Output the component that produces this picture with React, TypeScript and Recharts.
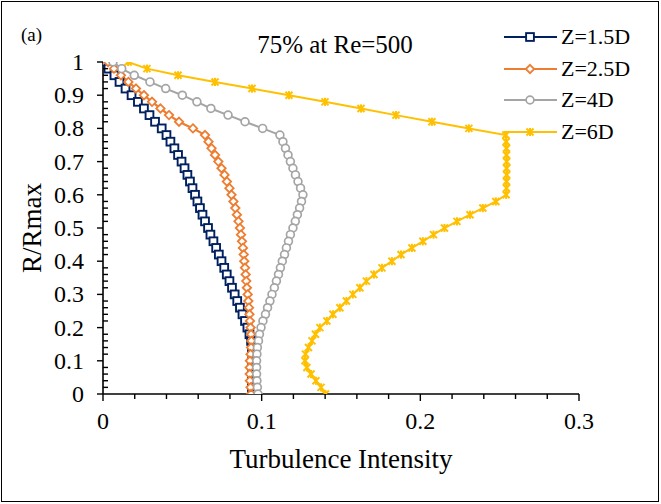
import React from "react";
import { LineChart, Line, XAxis, YAxis, Legend } from "recharts";

const FONT = "Liberation Serif, DejaVu Serif, serif";

// radial position, shared by every profile
const R_VALUES = [
  1, 0.98, 0.96, 0.94, 0.92, 0.9, 0.88, 0.86, 0.84, 0.82, 0.8, 0.78, 0.76, 0.74, 0.72, 0.7, 0.68,
  0.66, 0.64, 0.62, 0.6, 0.58, 0.56, 0.54, 0.52, 0.5, 0.48, 0.46, 0.44, 0.42, 0.4, 0.38, 0.36,
  0.34, 0.32, 0.3, 0.28, 0.26, 0.24, 0.22, 0.2, 0.18, 0.16, 0.14, 0.12, 0.1, 0.08, 0.06, 0.04,
  0.02, 0,
];

// turbulence intensity at each R, per axial station
const TI_Z15 = [
  0.002, 0.0034, 0.0072, 0.0104, 0.0142, 0.018, 0.022, 0.0258, 0.0293, 0.0328, 0.037, 0.04,
  0.0425, 0.045, 0.0473, 0.0495, 0.0514, 0.0532, 0.0548, 0.0564, 0.058, 0.0595, 0.0611, 0.0627,
  0.0643, 0.0662, 0.0677, 0.0696, 0.0713, 0.073, 0.0747, 0.0764, 0.078, 0.0797, 0.0813, 0.083,
  0.0846, 0.0863, 0.0879, 0.0895, 0.091, 0.0923, 0.0933, 0.0939, 0.0942, 0.0942, 0.094, 0.0939,
  0.0939, 0.0939, 0.0942,
];
const TI_Z25 = [
  0.0032, 0.0069, 0.0113, 0.016, 0.0208, 0.0258, 0.0309, 0.0362, 0.0416, 0.0479, 0.0567, 0.0643,
  0.0665, 0.0684, 0.0706, 0.0727, 0.0747, 0.0766, 0.0781, 0.0797, 0.081, 0.0822, 0.0834, 0.0844,
  0.0854, 0.0863, 0.087, 0.0876, 0.0882, 0.0887, 0.089, 0.0895, 0.0899, 0.0903, 0.0907, 0.0912,
  0.0916, 0.092, 0.0923, 0.0926, 0.093, 0.0933, 0.0935, 0.0933, 0.093, 0.0926, 0.0925, 0.0925,
  0.0926, 0.093, 0.0933,
];
const TI_Z4 = [
  0.0063, 0.0118, 0.0197, 0.0296, 0.0395, 0.05, 0.0592, 0.068, 0.0788, 0.0895, 0.1006, 0.1115,
  0.1134, 0.115, 0.1166, 0.1181, 0.1197, 0.1213, 0.1229, 0.1245, 0.126, 0.1251, 0.1239, 0.1225,
  0.1212, 0.1197, 0.1181, 0.1169, 0.1156, 0.1144, 0.113, 0.1118, 0.1106, 0.1093, 0.108, 0.1065,
  0.1052, 0.1037, 0.1024, 0.1008, 0.0996, 0.0986, 0.098, 0.0973, 0.097, 0.0968, 0.0968, 0.0968,
  0.097, 0.0973, 0.0977,
];
const TI_Z6 = [
  0.0158, 0.0277, 0.0473, 0.0706, 0.0939, 0.1172, 0.1399, 0.1626, 0.1846, 0.2073, 0.2306, 0.2539,
  0.2541, 0.2543, 0.2543, 0.2544, 0.2544, 0.2544, 0.2543, 0.2543, 0.2541, 0.2476, 0.2394, 0.2313,
  0.2231, 0.2152, 0.2083, 0.2016, 0.1947, 0.1878, 0.1821, 0.1758, 0.1708, 0.166, 0.1619, 0.1575,
  0.1534, 0.1493, 0.1449, 0.1411, 0.1367, 0.1339, 0.1317, 0.1295, 0.1276, 0.1273, 0.1285, 0.1311,
  0.1342, 0.1374, 0.1402,
];

const X_MAJOR = [0, 0.1, 0.2, 0.3];
const Y_MAJOR = [0, 0.1, 0.2, 0.3, 0.4, 0.5, 0.6, 0.7, 0.8, 0.9, 1];

const range = (max: number, step: number) =>
  Array.from({ length: Math.round(max / step) + 1 }, (_, i) => Math.round(i * step * 1000) / 1000);
const X_TICKS = range(0.3, 0.02);
const Y_TICKS = range(1, 0.02);
const isMajor = (list: number[], v: number) => list.some((t) => Math.abs(t - v) < 1e-6);

type Kind = "square" | "diamond" | "circle" | "star";

const SERIES: { name: string; ti: number[]; color: string; kind: Kind; width: number }[] = [
  { name: "Z=1.5D", ti: TI_Z15, color: "#002060", kind: "square", width: 2.2 },
  { name: "Z=2.5D", ti: TI_Z25, color: "#ED7D31", kind: "diamond", width: 2.2 },
  { name: "Z=4D", ti: TI_Z4, color: "#A5A5A5", kind: "circle", width: 2 },
  { name: "Z=6D", ti: TI_Z6, color: "#FFC000", kind: "star", width: 2 },
];

function Marker({ kind, cx, cy, color }: { kind: Kind; cx: number; cy: number; color: string }) {
  if (kind === "square")
    return <rect x={cx - 3.9} y={cy - 3.9} width={7.8} height={7.8} fill="#fff" stroke={color} strokeWidth={1.9} />;
  if (kind === "diamond")
    return (
      <path
        d={`M${cx},${cy - 4.2}L${cx + 4.2},${cy}L${cx},${cy + 4.2}L${cx - 4.2},${cy}Z`}
        fill="#fff"
        stroke={color}
        strokeWidth={1.8}
      />
    );
  if (kind === "circle")
    return <circle cx={cx} cy={cy} r={3.9} fill="#fff" stroke={color} strokeWidth={1.7} />;
  const s = 3.5;
  return (
    <g stroke={color} strokeWidth={2}>
      <line x1={cx - s} y1={cy - s} x2={cx + s} y2={cy + s} />
      <line x1={cx - s} y1={cy + s} x2={cx + s} y2={cy - s} />
      <line x1={cx} y1={cy - s - 0.6} x2={cx} y2={cy + s + 0.6} />
    </g>
  );
}

function XTick(props: any) {
  const { x, y, payload } = props;
  const major = isMajor(X_MAJOR, payload.value);
  return (
    <g>
      <line x1={x} x2={x} y1={y} y2={y + (major ? 7 : 5)} stroke="#000" strokeWidth={1.4} />
      {major && (
        <text x={x} y={y + 35} textAnchor="middle" fontSize={24} fontFamily={FONT} fill="#000">
          {payload.value}
        </text>
      )}
    </g>
  );
}

function YTick(props: any) {
  const { x, y, payload } = props;
  const major = isMajor(Y_MAJOR, payload.value);
  return (
    <g>
      {major ? (
        <line x1={x - 6} x2={x} y1={y} y2={y} stroke="#000" strokeWidth={1.4} />
      ) : (
        <line x1={x} x2={x + 5} y1={y} y2={y} stroke="#000" strokeWidth={1.4} />
      )}
      {major && (
        <text x={x - 19} y={y + 8} textAnchor="end" fontSize={24} fontFamily={FONT} fill="#000">
          {payload.value}
        </text>
      )}
    </g>
  );
}

function LegendBox() {
  return (
    <div style={{ fontFamily: FONT, fontSize: 22, color: "#000" }}>
      {SERIES.map((s) => (
        <div key={s.name} style={{ display: "flex", alignItems: "center", height: 31.7 }}>
          <svg width={56} height={14} style={{ overflow: "visible" }}>
            <line x1={1} x2={54} y1={7} y2={7} stroke={s.color} strokeWidth={s.width} />
            <Marker kind={s.kind} cx={27} cy={7} color={s.color} />
          </svg>
          <span style={{ marginLeft: 2, lineHeight: 1 }}>{s.name}</span>
        </div>
      ))}
    </div>
  );
}

export default function App() {
  const seriesData = SERIES.map((s) => ({
    ...s,
    points: R_VALUES.map((r, i) => ({ r, ti: s.ti[i] })),
  }));

  return (
    <div
      style={{
        position: "absolute",
        left: 0,
        top: 0,
        width: 661,
        height: 504,
        background: "#fff",
        fontFamily: FONT,
        overflow: "hidden",
      }}
    >
      <div
        style={{
          position: "absolute",
          left: 1,
          top: 1,
          width: 656,
          height: 499,
          border: "1.5px solid #000",
        }}
      />
      <div style={{ position: "absolute", left: 21, top: 24, fontSize: 19, lineHeight: 1.2 }}>(a)</div>
      <div
        style={{
          position: "absolute",
          left: 215,
          top: 32,
          width: 240,
          textAlign: "center",
          fontSize: 25,
          lineHeight: 1,
        }}
      >
        75% at Re=500
      </div>
      <LineChart width={661} height={504} margin={{ top: 62, right: 82, bottom: 60, left: 43 }}>
        <XAxis
          type="number"
          dataKey="ti"
          domain={[0, 0.3]}
          ticks={X_TICKS}
          interval={0}
          tickSize={0}
          tickMargin={0}
          tickLine={false}
          tick={<XTick />}
          axisLine={{ stroke: "#000", strokeWidth: 1.6 }}
          height={50}
          allowDataOverflow
          label={{
            value: "Turbulence Intensity",
            position: "insideBottom",
            offset: -24,
            fontSize: 27,
            fontFamily: FONT,
            fill: "#000",
          }}
        />
        <YAxis
          type="number"
          dataKey="r"
          domain={[0, 1]}
          ticks={Y_TICKS}
          interval={0}
          tickSize={0}
          tickMargin={0}
          tickLine={false}
          tick={<YTick />}
          axisLine={{ stroke: "#000", strokeWidth: 1.6 }}
          width={60}
          allowDataOverflow
          label={{
            value: "R/Rmax",
            angle: -90,
            position: "insideLeft",
            offset: -12,
            fontSize: 27,
            fontFamily: FONT,
            fill: "#000",
            style: { textAnchor: "middle" },
          }}
        />
        <Legend
          layout="vertical"
          align="center"
          verticalAlign="middle"
          wrapperStyle={{ left: 503, top: 21, width: 160 }}
          content={() => <LegendBox />}
        />
        {seriesData.map((s) => (
          <Line
            key={s.name}
            name={s.name}
            data={s.points}
            dataKey="r"
            type="linear"
            stroke={s.color}
            strokeWidth={s.width}
            isAnimationActive={false}
            dot={(p: any) => <Marker key={p.index} kind={s.kind} cx={p.cx} cy={p.cy} color={s.color} />}
            activeDot={false}
          />
        ))}
      </LineChart>
    </div>
  );
}
